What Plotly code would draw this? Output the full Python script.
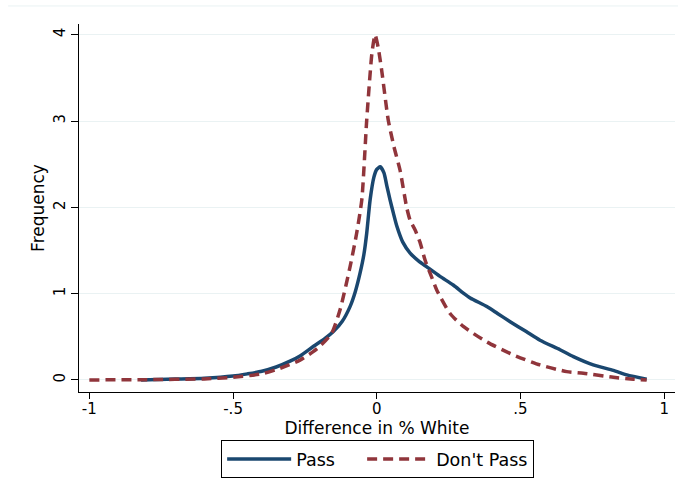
import plotly.graph_objects as go

# Kernel density curves
pass_x = [-0.82, -0.7, -0.6, -0.5, -0.45, -0.4, -0.35, -0.3, -0.267, -0.22, -0.18, -0.151,
          -0.12, -0.093, -0.075, -0.058, -0.045, -0.035, -0.023, -0.01, 0.0, 0.012, 0.025,
          0.035, 0.046, 0.058, 0.07, 0.09, 0.116, 0.145, 0.174, 0.22, 0.266, 0.3, 0.325,
          0.383, 0.42, 0.464, 0.52, 0.568, 0.6375, 0.684, 0.753, 0.823, 0.87, 0.939]
pass_y = [0.0, 0.01, 0.02, 0.045, 0.07, 0.1, 0.15, 0.22, 0.278, 0.39, 0.48, 0.56,
          0.68, 0.85, 1.02, 1.24, 1.45, 1.70, 2.09, 2.35, 2.44, 2.47, 2.40,
          2.25, 2.09, 1.93, 1.78, 1.60, 1.47, 1.38, 1.31, 1.20, 1.10, 1.01, 0.95,
          0.85, 0.77, 0.675, 0.56, 0.46, 0.35, 0.27, 0.174, 0.11, 0.058, 0.008]

dp_x = [-1.0, -0.8, -0.6, -0.5, -0.4, -0.336, -0.267, -0.22, -0.195, -0.157, -0.128, -0.093,
        -0.07, -0.052, -0.035, -0.017, -0.006, 0.005, 0.017, 0.04, 0.06, 0.081, 0.104,
        0.116, 0.133, 0.15, 0.168, 0.19, 0.209, 0.255, 0.301, 0.383, 0.475, 0.568, 0.661,
        0.719, 0.823, 0.893, 0.939]
dp_y = [0.0, 0.003, 0.012, 0.03, 0.07, 0.135, 0.23, 0.33, 0.40, 0.54, 0.81, 1.31,
        1.70, 2.09, 3.01, 3.78, 4.0, 3.85, 3.59, 3.01, 2.7, 2.43, 2.0,
        1.85, 1.74, 1.6, 1.39, 1.2, 1.04, 0.77, 0.62, 0.44, 0.29, 0.174, 0.096,
        0.078, 0.03, 0.008, 0.0]

x_ticks = [-1, -0.5, 0, 0.5, 1]
x_ticktext = ["-1", "-.5", "0", ".5", "1"]
y_ticks = [0, 1, 2, 3, 4]
series_names = ["Pass" + "\u00a0" * 4, "Don't Pass"]

NAVY = "#1a476f"
MAROON = "#90353b"
GRID = "#eaf2f3"
FONT = "DejaVu Sans"

fig = go.Figure()
fig.add_trace(go.Scatter(x=pass_x, y=pass_y, mode="lines", name=series_names[0],
                         line=dict(color=NAVY, width=3.5, shape="spline", smoothing=0.6)))
fig.add_trace(go.Scatter(x=dp_x, y=dp_y, mode="lines", name=series_names[1],
                         line=dict(color=MAROON, width=3.5, dash="10px,6px",
                                   shape="spline", smoothing=0.6)))

fig.update_layout(
    width=678, height=481,
    margin=dict(l=79, r=3, t=24, b=89, autoexpand=False),
    paper_bgcolor="white", plot_bgcolor="white",
    font=dict(family=FONT, size=15, color="black"),
    showlegend=True,
    legend=dict(orientation="h", xref="container", yref="container",
                x=0.557, xanchor="center", y=3 / 481, yanchor="bottom",
                bordercolor="black", borderwidth=1, font=dict(size=17.5),
                itemwidth=64, traceorder="normal"),
    xaxis=dict(range=[-1.036, 1.0376], tickvals=x_ticks, ticktext=x_ticktext,
               showgrid=False, zeroline=False, showline=True, linecolor="black",
               linewidth=1, ticks="outside", ticklen=6, tickcolor="black",
               automargin=False, ticklabelstandoff=-3,
               title=dict(text="Difference in % White", standoff=0, font=dict(size=17)),
               tickfont=dict(size=15)),
    yaxis=dict(range=[-0.14, 4.125], tickvals=y_ticks, showgrid=True, gridcolor=GRID,
               gridwidth=1, zeroline=False, showline=True, linecolor="black",
               linewidth=1, ticks="outside", ticklen=7, tickcolor="black",
               tickangle=-90, automargin=False,
               title=dict(text="Frequency", standoff=2, font=dict(size=17)),
               tickfont=dict(size=15)),
    shapes=[dict(type="line", xref="paper", yref="paper", x0=-0.119, x1=1.01,
                 y0=1.049, y1=1.049, line=dict(color=GRID, width=1))],
)

fig.write_html("out.html", config={"displayModeBar": False},
               post_script="document.body.style.margin='0';")
